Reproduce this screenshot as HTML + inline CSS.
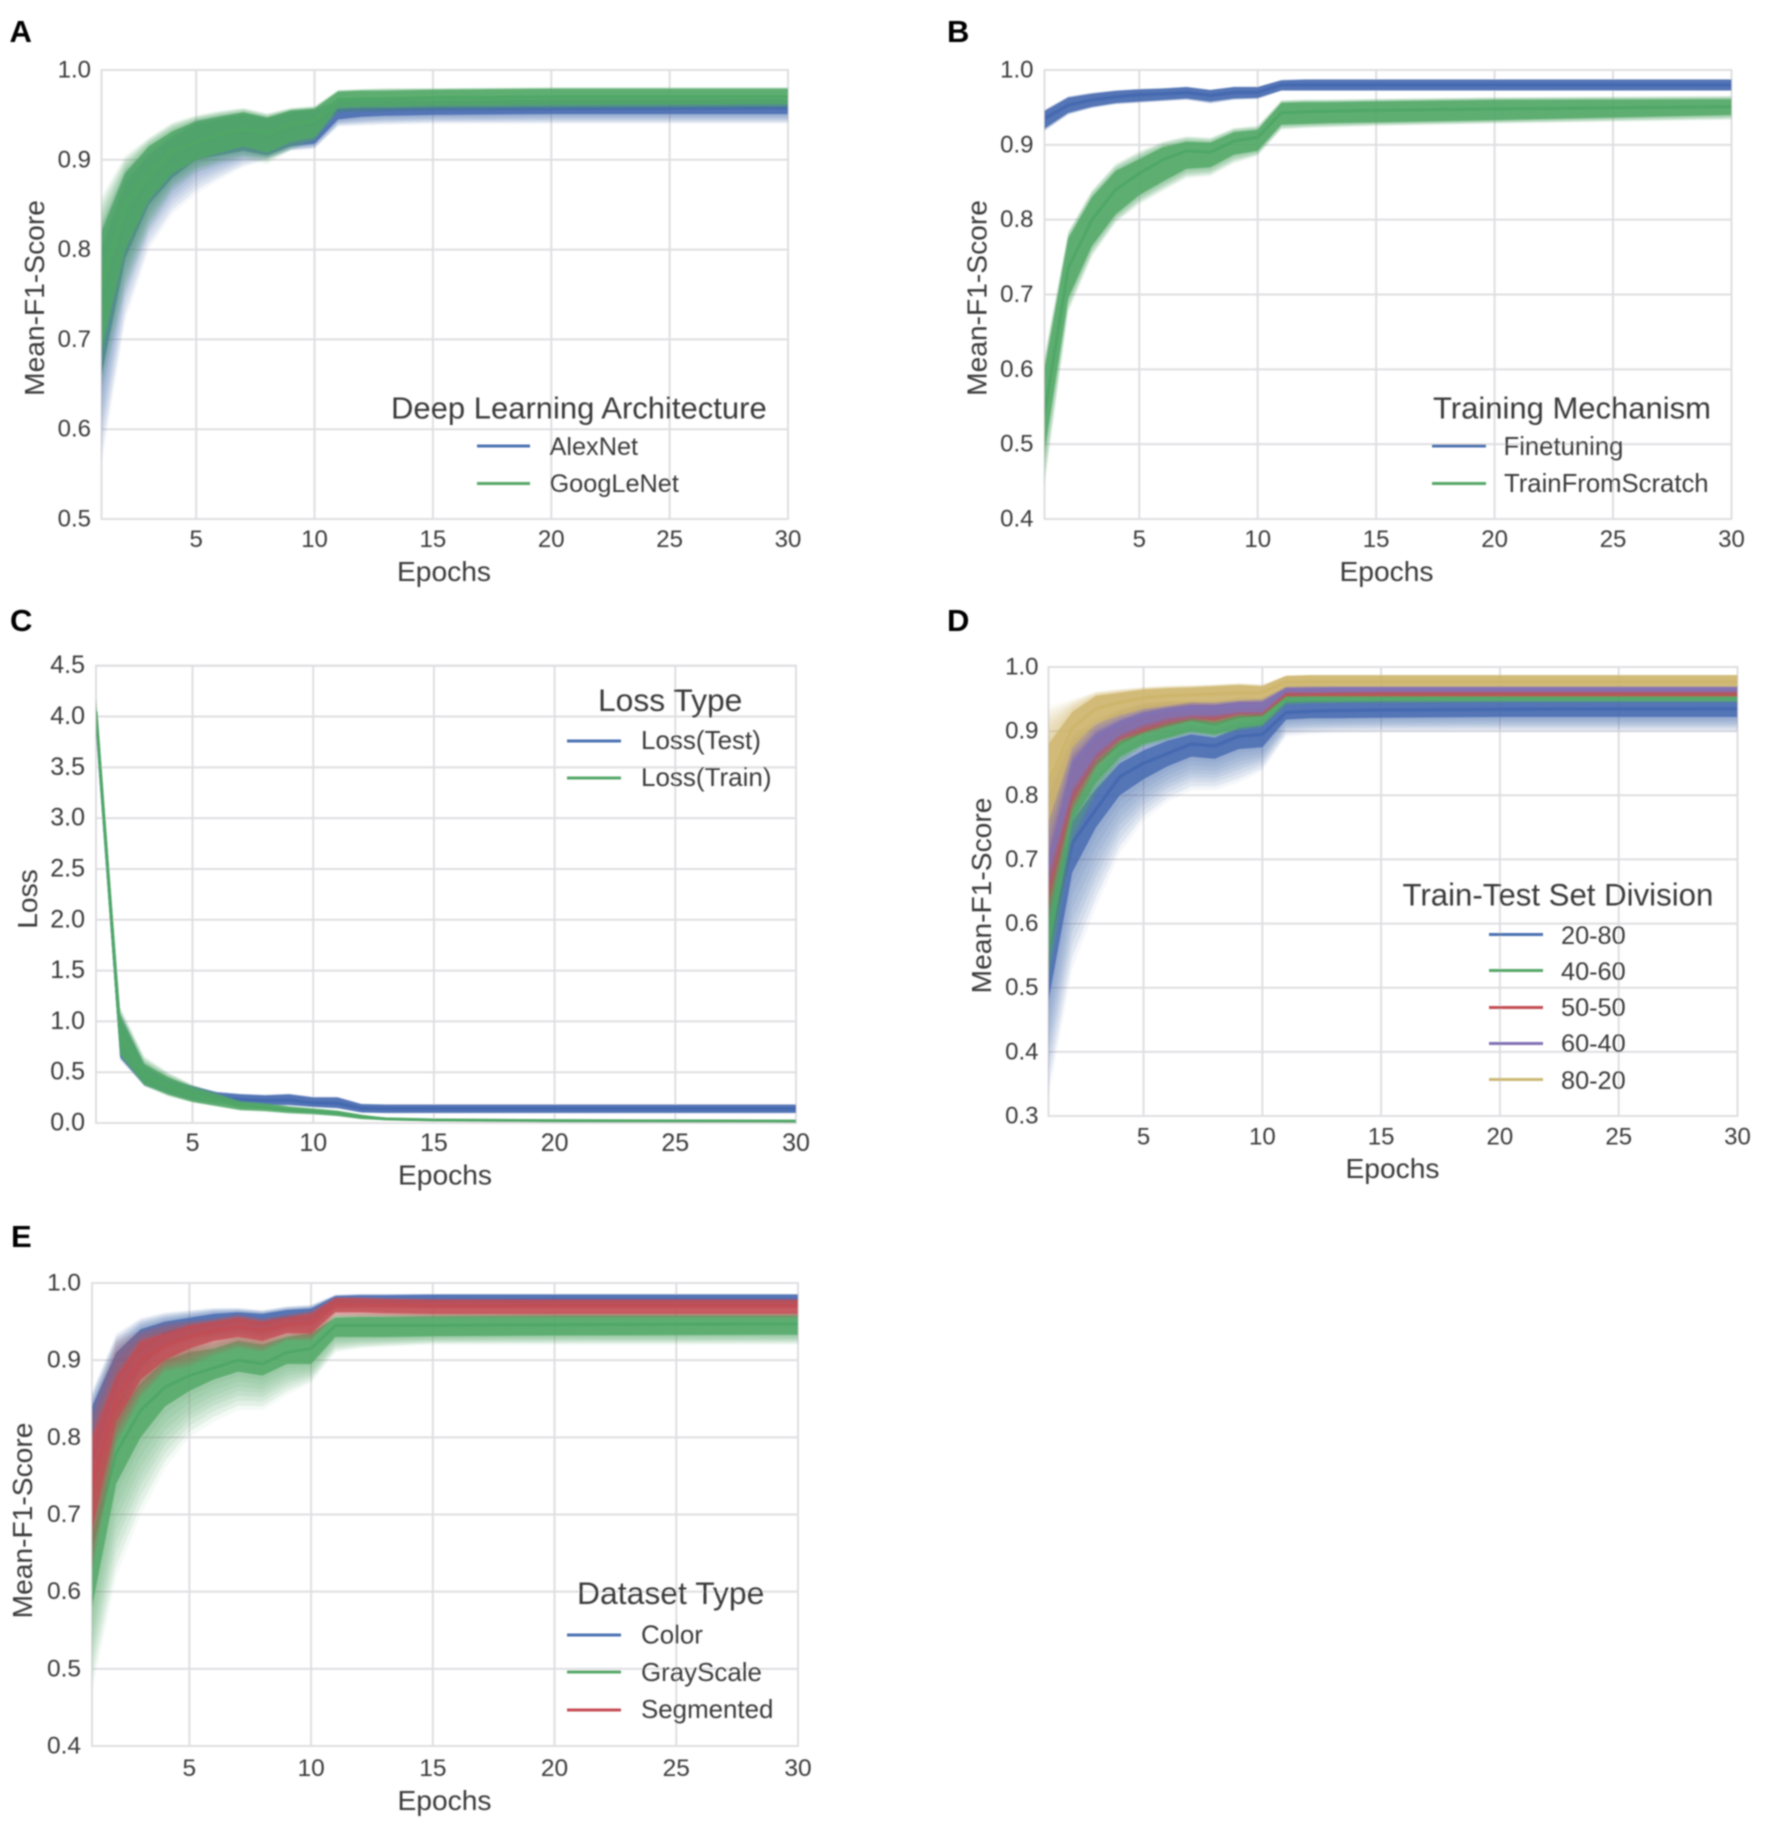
<!DOCTYPE html>
<html lang="en">
<head>
<meta charset="utf-8">
<title>Mean-F1-Score and Loss by Epoch</title>
<style>
html,body{margin:0;padding:0;background:#fff;width:1772px;height:1824px;overflow:hidden}
svg{display:block}
text{font-family:"Liberation Sans",sans-serif;fill:#3b3b3b}
.letter{font-weight:bold;font-size:31px;fill:#000}
.ltitle{font-size:31px}
.llabel{font-size:25.3px}
.alabel{font-size:28.2px}
</style>
</head>
<body>
<svg id="figure" xmlns="http://www.w3.org/2000/svg" width="1772" height="1824" viewBox="0 0 1772 1824">
<defs>
<filter id="soft" filterUnits="userSpaceOnUse" x="0" y="0" width="1772" height="1824"><feGaussianBlur stdDeviation="0.8"/></filter>
</defs>
<rect x="0" y="0" width="1772" height="1824" fill="#fff"/>
<g id="root" filter="url(#soft)">
<text class="letter" x="9.5" y="42">A</text>
<text class="letter" x="947" y="42">B</text>
<text class="letter" x="10" y="631">C</text>
<text class="letter" x="947" y="631">D</text>
<text class="letter" x="11" y="1247">E</text>
<g id="plots"></g>

<g>
<text class="ltitle" x="391" y="418.5">Deep Learning Architecture</text>
<line x1="477" x2="530" y1="446" y2="446" stroke="#4C72B0" stroke-width="3"/>
<text class="llabel" x="549.5" y="455">AlexNet</text>
<line x1="477" x2="530" y1="483.5" y2="483.5" stroke="#55A868" stroke-width="3"/>
<text class="llabel" x="549.5" y="492">GoogLeNet</text>
</g>
<g>
<text class="ltitle" x="1433" y="418.5">Training Mechanism</text>
<line x1="1432" x2="1486" y1="446" y2="446" stroke="#4C72B0" stroke-width="3"/>
<text class="llabel" style="font-size:25.7px" x="1503.5" y="455">Finetuning</text>
<line x1="1432" x2="1486" y1="483.5" y2="483.5" stroke="#55A868" stroke-width="3"/>
<text class="llabel" style="font-size:25.7px" x="1504" y="492">TrainFromScratch</text>
</g>
<g>
<text class="ltitle" style="font-size:31.8px" x="598" y="711">Loss Type</text>
<line x1="567" x2="621" y1="741" y2="741" stroke="#4C72B0" stroke-width="3"/>
<text class="llabel" style="font-size:26px" x="641" y="749">Loss(Test)</text>
<line x1="567" x2="621" y1="778" y2="778" stroke="#55A868" stroke-width="3"/>
<text class="llabel" style="font-size:26px" x="641" y="786">Loss(Train)</text>
</g>
<g>
<text class="ltitle" style="font-size:31.2px" x="1402.5" y="905.5">Train-Test Set Division</text>
<line x1="1489" x2="1543" y1="934.5" y2="934.5" stroke="#4C72B0" stroke-width="3"/>
<text class="llabel" x="1561" y="944">20-80</text>
<line x1="1489" x2="1543" y1="970.5" y2="970.5" stroke="#55A868" stroke-width="3"/>
<text class="llabel" x="1561" y="980">40-60</text>
<line x1="1489" x2="1543" y1="1007.5" y2="1007.5" stroke="#C44E52" stroke-width="3"/>
<text class="llabel" x="1561" y="1016">50-50</text>
<line x1="1489" x2="1543" y1="1043.5" y2="1043.5" stroke="#8172B2" stroke-width="3"/>
<text class="llabel" x="1561" y="1052">60-40</text>
<line x1="1489" x2="1543" y1="1079.5" y2="1079.5" stroke="#CCB974" stroke-width="3"/>
<text class="llabel" x="1561" y="1089">80-20</text>
</g>
<g>
<text class="ltitle" style="font-size:31.9px" x="577" y="1604">Dataset Type</text>
<line x1="567" x2="621" y1="1635" y2="1635" stroke="#4C72B0" stroke-width="3"/>
<text class="llabel" style="font-size:25.9px" x="641" y="1643.5">Color</text>
<line x1="567" x2="621" y1="1672" y2="1672" stroke="#55A868" stroke-width="3"/>
<text class="llabel" style="font-size:25.9px" x="641" y="1681">GrayScale</text>
<line x1="567" x2="621" y1="1710" y2="1710" stroke="#C44E52" stroke-width="3"/>
<text class="llabel" style="font-size:25.9px" x="641" y="1718">Segmented</text>
</g>
</g>
</svg>
<script>
// Shared x values and tick labels
const epochs = [1,2,3,4,5,6,7,8,9,10,11,12,13,15,20,30];
const xTicks = [5,10,15,20,25,30];
const yTicksF1From5 = ['0.5','0.6','0.7','0.8','0.9','1.0'];
const yTicksF1From4 = ['0.4','0.5','0.6','0.7','0.8','0.9','1.0'];
const yTicksF1From3 = ['0.3','0.4','0.5','0.6','0.7','0.8','0.9','1.0'];
const yTicksLoss = ['0.0','0.5','1.0','1.5','2.0','2.5','3.0','3.5','4.0','4.5'];

// Panel A
const alexMean = [.74,.83,.875,.90,.917,.925,.93,.925,.935,.94,.955,.956,.956,.957,.957,.958];
const alexCoreLow = [.66,.79,.85,.88,.90,.905,.91,.905,.915,.918,.945,.948,.949,.95,.951,.951];
const alexCoreHigh = [.80,.875,.905,.925,.94,.945,.95,.945,.953,.955,.965,.966,.966,.966,.967,.967];
const alexOuterLow = [.56,.72,.80,.84,.862,.878,.892,.90,.91,.912,.937,.938,.939,.94,.94,.94];
const alexOuterHigh = [.83,.89,.915,.93,.945,.95,.953,.948,.955,.957,.968,.968,.968,.968,.968,.968];
const googMean = [.76,.85,.885,.91,.92,.928,.935,.93,.94,.944,.967,.968,.968,.969,.97,.97];
const googCoreLow = [.69,.80,.855,.885,.90,.908,.915,.908,.92,.925,.958,.959,.959,.96,.961,.962];
const googCoreHigh = [.82,.885,.915,.932,.943,.948,.953,.947,.955,.957,.976,.977,.977,.978,.979,.979];
const googOuterLow = [.64,.75,.82,.865,.885,.895,.90,.895,.91,.92,.952,.953,.954,.955,.956,.957];
const googOuterHigh = [.86,.905,.925,.942,.95,.955,.958,.952,.958,.96,.978,.979,.98,.98,.981,.981];

// Panel B
const fineMean = [.935,.953,.96,.964,.967,.968,.97,.966,.97,.97,.98,.98,.98,.98,.98,.98];
const fineCoreLow = [.922,.943,.951,.956,.958,.96,.962,.958,.962,.963,.973,.973,.973,.973,.973,.973];
const fineCoreHigh = [.945,.963,.968,.972,.974,.975,.977,.973,.977,.977,.986,.987,.987,.987,.987,.987];
const fineOuterLow = [.918,.94,.949,.954,.956,.958,.96,.955,.96,.961,.972,.972,.972,.972,.972,.972];
const fineOuterHigh = [.947,.965,.97,.973,.975,.976,.978,.974,.978,.978,.987,.988,.988,.988,.988,.988];
const scratchMean = [.54,.735,.80,.84,.862,.88,.892,.89,.905,.91,.943,.944,.945,.946,.948,.951];
const scratchCoreLow = [.49,.695,.765,.807,.833,.851,.868,.87,.887,.892,.927,.928,.929,.93,.933,.94];
const scratchCoreHigh = [.60,.775,.83,.865,.881,.897,.904,.903,.917,.92,.956,.957,.957,.958,.96,.961];
const scratchOuterLow = [.44,.675,.75,.795,.82,.838,.855,.858,.875,.885,.92,.922,.923,.925,.928,.933];
const scratchOuterHigh = [.62,.785,.84,.875,.892,.905,.912,.91,.923,.926,.96,.961,.961,.962,.964,.966];

// Panel C
const testMean = [4.02,.86,.46,.36,.29,.25,.23,.22,.225,.2,.195,.145,.14,.14,.14,.14];
const testCoreLow = [3.9,.65,.38,.3,.23,.2,.19,.18,.18,.16,.15,.105,.10,.10,.10,.10];
const testCoreHigh = [4.1,1.05,.55,.42,.36,.3,.28,.27,.28,.25,.25,.185,.18,.18,.18,.18];
const testOuterLow = [3.85,.62,.36,.28,.22,.19,.18,.17,.17,.155,.14,.10,.095,.095,.095,.095];
const testOuterHigh = [4.15,1.1,.6,.45,.37,.31,.29,.28,.29,.26,.26,.19,.185,.185,.185,.185];
const trainMean = [4.05,.86,.47,.36,.28,.22,.17,.155,.13,.115,.095,.06,.04,.03,.022,.018];
const trainCoreLow = [3.9,.68,.38,.28,.21,.17,.13,.12,.10,.09,.07,.04,.03,.02,.01,.005];
const trainCoreHigh = [4.15,1.05,.58,.45,.35,.28,.21,.19,.16,.14,.12,.08,.05,.04,.035,.03];
const trainOuterLow = [3.85,.65,.36,.26,.2,.16,.12,.11,.09,.08,.065,.035,.025,.015,.008,.004];
const trainOuterHigh = [4.2,1.15,.66,.5,.38,.3,.22,.2,.17,.15,.125,.085,.055,.045,.04,.035];

// Panel D
const d2080Mean = [.56,.726,.778,.829,.85,.865,.88,.877,.892,.895,.929,.931,.932,.933,.934,.935];
const d2080CoreLow = [.48,.68,.75,.80,.825,.845,.86,.857,.872,.875,.918,.92,.92,.921,.922,.922];
const d2080CoreHigh = [.62,.76,.81,.85,.87,.885,.895,.89,.905,.91,.947,.947,.947,.947,.947,.947];
const d2080OuterLow = [.33,.53,.626,.71,.76,.79,.808,.808,.82,.838,.892,.895,.897,.898,.898,.898];
const d2080OuterHigh = [.68,.80,.84,.88,.90,.91,.915,.91,.92,.925,.955,.955,.955,.955,.955,.955];
const d4060Mean = [.63,.80,.85,.88,.90,.91,.918,.91,.922,.925,.955,.955,.955,.955,.955,.955];
const d4060CoreLow = [.55,.76,.82,.86,.88,.89,.90,.895,.905,.91,.945,.946,.946,.947,.947,.947];
const d4060CoreHigh = [.70,.84,.88,.90,.915,.925,.93,.925,.935,.938,.962,.962,.962,.962,.962,.962];
const d4060OuterLow = [.5,.72,.80,.85,.875,.885,.895,.89,.90,.905,.94,.942,.943,.943,.944,.944];
const d4060OuterHigh = [.72,.86,.89,.905,.92,.93,.935,.93,.94,.94,.965,.965,.965,.965,.965,.965];
const d5050Mean = [.70,.825,.875,.90,.915,.925,.933,.928,.936,.936,.962,.962,.962,.962,.962,.962];
const d5050CoreLow = [.64,.79,.855,.887,.90,.912,.92,.917,.926,.926,.955,.955,.955,.955,.955,.955];
const d5050CoreHigh = [.76,.86,.895,.915,.93,.938,.945,.94,.945,.945,.966,.966,.966,.966,.966,.966];
const d5050OuterLow = [.6,.77,.84,.88,.895,.905,.915,.91,.92,.922,.952,.953,.953,.953,.953,.953];
const d5050OuterHigh = [.78,.87,.905,.92,.935,.942,.948,.943,.948,.948,.968,.968,.968,.968,.968,.968];
const d6040Mean = [.74,.85,.89,.912,.925,.933,.936,.935,.94,.94,.966,.966,.966,.966,.966,.966];
const d6040CoreLow = [.68,.81,.865,.895,.91,.92,.925,.925,.93,.93,.961,.961,.961,.962,.962,.962];
const d6040CoreHigh = [.80,.885,.91,.93,.94,.945,.945,.945,.95,.95,.97,.97,.97,.97,.97,.97];
const d6040OuterLow = [.64,.79,.85,.885,.90,.91,.918,.918,.925,.925,.957,.957,.958,.958,.958,.958];
const d6040OuterHigh = [.83,.895,.92,.935,.945,.948,.948,.948,.953,.953,.972,.972,.972,.972,.972,.972];
const d8020Mean = [.82,.905,.935,.945,.952,.955,.957,.958,.96,.96,.977,.977,.977,.977,.977,.977];
const d8020CoreLow = [.76,.875,.912,.925,.935,.94,.945,.945,.948,.95,.969,.97,.97,.97,.97,.97];
const d8020CoreHigh = [.88,.93,.955,.96,.965,.967,.968,.97,.972,.97,.986,.987,.987,.987,.987,.987];
const d8020OuterLow = [.70,.85,.895,.915,.928,.935,.94,.94,.945,.945,.967,.967,.968,.968,.968,.968];
const d8020OuterHigh = [.94,.95,.962,.966,.969,.971,.972,.973,.975,.973,.987,.988,.988,.988,.988,.988];

// Panel E
const colorMean = [.77,.875,.915,.935,.943,.948,.952,.948,.955,.956,.977,.977,.977,.977,.978,.978];
const colorCoreLow = [.70,.83,.89,.92,.93,.935,.94,.935,.945,.945,.97,.97,.97,.97,.97,.97];
const colorCoreHigh = [.84,.91,.94,.95,.955,.96,.962,.96,.965,.967,.983,.984,.984,.985,.985,.985];
const colorOuterLow = [.64,.80,.87,.90,.915,.925,.93,.925,.935,.935,.965,.966,.966,.967,.967,.967];
const colorOuterHigh = [.86,.935,.955,.962,.965,.968,.968,.965,.97,.972,.985,.986,.986,.986,.986,.986];
const grayMean = [.66,.78,.835,.865,.88,.89,.90,.895,.91,.915,.945,.945,.945,.945,.946,.947];
const grayCoreLow = [.58,.74,.80,.84,.86,.875,.885,.88,.895,.895,.93,.93,.93,.931,.932,.933];
const grayCoreHigh = [.72,.83,.87,.90,.91,.915,.925,.92,.93,.935,.955,.956,.956,.957,.958,.958];
const grayOuterLow = [.47,.62,.70,.76,.80,.82,.835,.835,.855,.87,.91,.915,.917,.92,.92,.92];
const grayOuterHigh = [.76,.85,.885,.91,.92,.925,.932,.928,.935,.94,.96,.961,.961,.962,.963,.963];
const segMean = [.74,.85,.90,.918,.93,.938,.943,.938,.945,.948,.971,.971,.971,.97,.97,.97];
const segCoreLow = [.68,.82,.875,.90,.915,.925,.93,.925,.935,.935,.962,.962,.961,.96,.96,.96];
const segCoreHigh = [.80,.88,.925,.935,.945,.95,.955,.95,.955,.96,.98,.98,.979,.978,.978,.978];
const segOuterLow = [.62,.79,.85,.885,.89,.905,.915,.91,.925,.925,.955,.955,.955,.955,.955,.955];
const segOuterHigh = [.84,.93,.94,.95,.952,.955,.96,.955,.96,.965,.982,.982,.981,.98,.98,.98];

const BLUE = '#4569B0', GREEN = '#50A766', RED = '#C24E54', PURPLE = '#8172B2', YELLOW = '#CDB56C';
const GRID = '#dfdfe2';

const panels = [
  {id:'a', left:101.5, right:788, top:70, bottom:519, yMin:.5, yMax:1, yTicks:yTicksF1From5, tickSize:24,
   tickRight:91, xTickBase:547, xLabelX:444, xLabelBase:581, yLabel:'Mean-F1-Score', yLabelX:44, yLabelY:298,
   series:[
    {key:'alexnet', color:BLUE, mean:alexMean, coreLow:alexCoreLow, coreHigh:alexCoreHigh, outerLow:alexOuterLow, outerHigh:alexOuterHigh},
    {key:'googlenet', color:GREEN, mean:googMean, coreLow:googCoreLow, coreHigh:googCoreHigh, outerLow:googOuterLow, outerHigh:googOuterHigh}]},
  {id:'b', left:1044.5, right:1731.5, top:70, bottom:519, yMin:.4, yMax:1, yTicks:yTicksF1From4, tickSize:24,
   tickRight:1033.5, xTickBase:547, xLabelX:1386.5, xLabelBase:581, yLabel:'Mean-F1-Score', yLabelX:986.5, yLabelY:298,
   series:[
    {key:'finetuning', color:BLUE, mean:fineMean, coreLow:fineCoreLow, coreHigh:fineCoreHigh, outerLow:fineOuterLow, outerHigh:fineOuterHigh},
    {key:'trainfromscratch', color:GREEN, mean:scratchMean, coreLow:scratchCoreLow, coreHigh:scratchCoreHigh, outerLow:scratchOuterLow, outerHigh:scratchOuterHigh}]},
  {id:'c', left:96, right:796, top:665.7, bottom:1123, yMin:0, yMax:4.5, yTicks:yTicksLoss, tickSize:25,
   tickRight:85, xTickBase:1151, xLabelX:445, xLabelBase:1184.5, yLabel:'Loss', yLabelX:37, yLabelY:899,
   series:[
    {key:'loss-test', color:BLUE, mean:testMean, coreLow:testCoreLow, coreHigh:testCoreHigh, outerLow:testOuterLow, outerHigh:testOuterHigh},
    {key:'loss-train', color:GREEN, mean:trainMean, coreLow:trainCoreLow, coreHigh:trainCoreHigh, outerLow:trainOuterLow, outerHigh:trainOuterHigh}]},
  {id:'d', left:1048.5, right:1737.5, top:667, bottom:1116, yMin:.3, yMax:1, yTicks:yTicksF1From3, tickSize:24,
   tickRight:1038.5, xTickBase:1144.5, xLabelX:1392.5, xLabelBase:1178, yLabel:'Mean-F1-Score', yLabelX:991, yLabelY:895.5,
   series:[
    {key:'20-80', color:BLUE, mean:d2080Mean, coreLow:d2080CoreLow, coreHigh:d2080CoreHigh, outerLow:d2080OuterLow, outerHigh:d2080OuterHigh},
    {key:'40-60', color:GREEN, mean:d4060Mean, coreLow:d4060CoreLow, coreHigh:d4060CoreHigh, outerLow:d4060OuterLow, outerHigh:d4060OuterHigh},
    {key:'50-50', color:RED, mean:d5050Mean, coreLow:d5050CoreLow, coreHigh:d5050CoreHigh, outerLow:d5050OuterLow, outerHigh:d5050OuterHigh},
    {key:'60-40', color:PURPLE, mean:d6040Mean, coreLow:d6040CoreLow, coreHigh:d6040CoreHigh, outerLow:d6040OuterLow, outerHigh:d6040OuterHigh},
    {key:'80-20', color:YELLOW, mean:d8020Mean, coreLow:d8020CoreLow, coreHigh:d8020CoreHigh, outerLow:d8020OuterLow, outerHigh:d8020OuterHigh}]},
  {id:'e', left:92, right:798, top:1283, bottom:1746, yMin:.4, yMax:1, yTicks:yTicksF1From4, tickSize:24.5,
   tickRight:81, xTickBase:1776, xLabelX:444.5, xLabelBase:1810, yLabel:'Mean-F1-Score', yLabelX:32, yLabelY:1520.5,
   series:[
    {key:'color', color:BLUE, mean:colorMean, coreLow:colorCoreLow, coreHigh:colorCoreHigh, outerLow:colorOuterLow, outerHigh:colorOuterHigh},
    {key:'grayscale', color:GREEN, mean:grayMean, coreLow:grayCoreLow, coreHigh:grayCoreHigh, outerLow:grayOuterLow, outerHigh:grayOuterHigh},
    {key:'segmented', color:RED, mean:segMean, coreLow:segCoreLow, coreHigh:segCoreHigh, outerLow:segOuterLow, outerHigh:segOuterHigh}]}
];

const NS = 'http://www.w3.org/2000/svg';
function make(tag, attrs, parent){
  const node = document.createElementNS(NS, tag);
  for (const k in attrs) node.setAttribute(k, attrs[k]);
  parent.appendChild(node);
  return node;
}
const plots = document.getElementById('plots');
const defs = document.querySelector('defs');
const bandWeights = [0, .12, .25, .38, .5, .62, .75, .88];

panels.forEach(function(p){
  const xScale = function(e){ return p.left + (e - 1) / 29 * (p.right - p.left); };
  const yScale = function(v){ return p.bottom - (v - p.yMin) / (p.yMax - p.yMin) * (p.bottom - p.top); };

  const panel = make('g', {}, plots);
  
  

  const clip = make('clipPath', {id:'clip-' + p.id}, defs);
  make('rect', {x:p.left, y:p.top, width:p.right - p.left, height:p.bottom - p.top}, clip);

  // gridlines and y ticks
  p.yTicks.forEach(function(label){
    const v = parseFloat(label);
    const grid = make('line', {x1:p.left, x2:p.right, y1:yScale(v), y2:yScale(v), stroke:GRID, 'stroke-width':2}, panel);
    
    
    const tick = make('text', {x:p.tickRight, y:yScale(v) + 7.5, 'text-anchor':'end', 'font-size':p.tickSize}, panel);
    
    
    tick.textContent = label;
  });
  // x ticks
  xTicks.forEach(function(e){
    const grid = make('line', {x1:xScale(e), x2:xScale(e), y1:p.top, y2:p.bottom, stroke:GRID, 'stroke-width':2}, panel);
    
    
    const tick = make('text', {x:xScale(e), y:p.xTickBase, 'text-anchor':'middle', 'font-size':p.tickSize}, panel);
    
    
    tick.textContent = e;
  });
  // frame
  const frame = make('rect', {x:p.left, y:p.top, width:p.right - p.left, height:p.bottom - p.top, fill:'none', stroke:GRID, 'stroke-width':2}, panel);
  
  

  // axis titles
  const xTitle = make('text', {x:p.xLabelX, y:p.xLabelBase, 'text-anchor':'middle', 'class':'alabel'}, panel);
  
  
  xTitle.textContent = 'Epochs';
  const yTitle = make('text', {x:p.yLabelX, y:p.yLabelY, 'text-anchor':'middle', 'class':'alabel', transform:'rotate(-90 ' + p.yLabelX + ' ' + p.yLabelY + ')'}, panel);
  
  
  yTitle.textContent = p.yLabel;

  // series
  const marks = make('g', {'clip-path':'url(#clip-' + p.id + ')'}, panel);
  
  
  p.series.forEach(function(s){
    const group = make('g', {}, marks);
    
    
    bandWeights.forEach(function(w){
      const upper = epochs.map(function(e, i){ return xScale(e).toFixed(1) + ',' + yScale(s.outerHigh[i] + w * (s.coreHigh[i] - s.outerHigh[i])).toFixed(1); });
      const lower = epochs.map(function(e, i){ return xScale(e).toFixed(1) + ',' + yScale(s.outerLow[i] + w * (s.coreLow[i] - s.outerLow[i])).toFixed(1); }).reverse();
      const band = make('polygon', {points:upper.concat(lower).join(' '), fill:s.color, 'fill-opacity':w === 0 ? .06 : .11}, group);
      
      
    });
    const cu = epochs.map(function(e, i){ return xScale(e).toFixed(1) + ',' + yScale(s.coreHigh[i]).toFixed(1); });
    const cl = epochs.map(function(e, i){ return xScale(e).toFixed(1) + ',' + yScale(s.coreLow[i]).toFixed(1); }).reverse();
    const core = make('polygon', {points:cu.concat(cl).join(' '), fill:s.color, 'fill-opacity':.82}, group);
    
    
    const line = make('polyline', {points:epochs.map(function(e, i){ return xScale(e).toFixed(1) + ',' + yScale(s.mean[i]).toFixed(1); }).join(' '), fill:'none', stroke:s.color, 'stroke-width':3}, group);
    
    
  });
});
</script>
</body>
</html>
